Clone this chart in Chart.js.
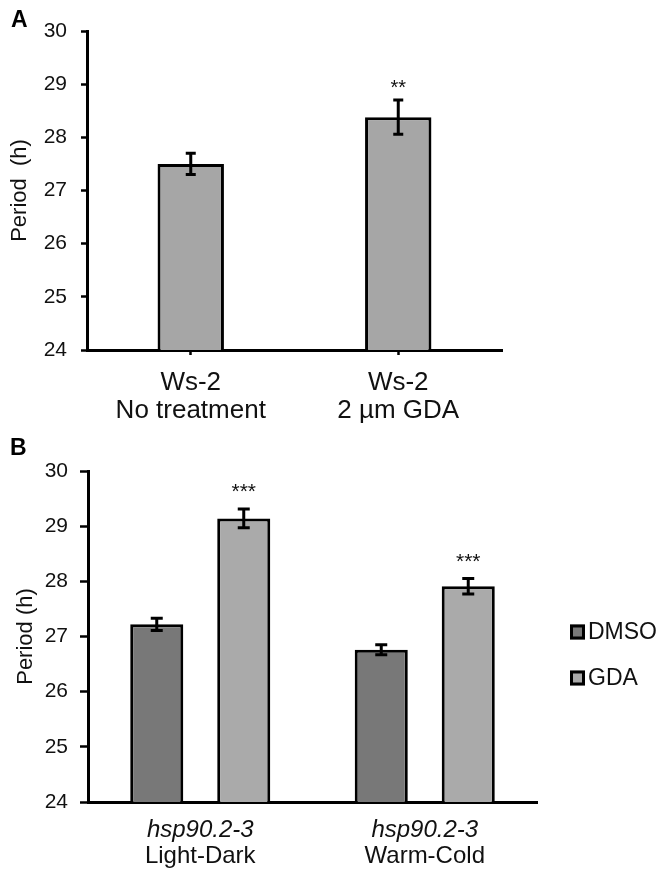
<!DOCTYPE html>
<html>
<head>
<meta charset="utf-8">
<title>Period (h)</title>
<script src="https://cdn.jsdelivr.net/npm/chart.js@4.4.0/dist/chart.umd.min.js"></script>
<style>
  html, body { margin: 0; padding: 0; background: #fff; }
  body { width: 659px; height: 876px; position: relative; overflow: hidden; font-family: "Liberation Sans", Arial, sans-serif; }
  .panel { position: absolute; left: 0; width: 659px; }
  #panelA { top: 0; height: 436px; }
  #panelB { top: 436px; height: 440px; }
  .letter { position: absolute; font-weight: bold; font-size: 23px; line-height: 1; color: #000; z-index: 2; }
</style>
</head>
<body>
<div class="letter" style="left:11px; top:8px">A</div>
<div class="letter" style="left:10px; top:436px">B</div>
<div class="panel" id="panelA"><canvas id="chartA"></canvas></div>
<div class="panel" id="panelB"><canvas id="chartB"></canvas></div>

<script>
// ---- Panel A data ----
const catsA = [['Ws-2', 'No treatment'], ['Ws-2', '2 µm GDA']];
const periodA = [27.5, 28.38];
const errA = [0.2, 0.32];
const starsA = ['', '**'];

// ---- Panel B data ----
const catsB = [['hsp90.2-3', 'Light-Dark'], ['hsp90.2-3', 'Warm-Cold']];
const seriesB = ['DMSO', 'GDA'];
const dmsoB = [27.22, 26.76];
const dmsoErrB = [0.11, 0.09];
const gdaB = [29.14, 27.91];
const gdaErrB = [0.17, 0.14];
const gdaStarsB = ['***', '***'];

// shared y ticks
const yTicks = [24, 25, 26, 27, 28, 29, 30];

Chart.defaults.font.family = "'Liberation Sans', Arial, sans-serif";
Chart.defaults.color = '#111';

// error bars + significance stars
const errorBars = {
    id: 'errorBars',
    afterDatasetsDraw(chart, args, opts) {
        const ctx = chart.ctx;
        const yScale = chart.scales.y;
        chart.data.datasets.forEach((ds, di) => {
            if (!ds.errors) return;
            const meta = chart.getDatasetMeta(di);
            meta.data.forEach((bar, i) => {
                const v = ds.data[i], e = ds.errors[i];
                const top = yScale.getPixelForValue(v + e);
                const bot = yScale.getPixelForValue(v - e);
                ctx.save();
                ctx.strokeStyle = '#000';
                ctx.lineWidth = opts.width;
                ctx.beginPath();
                ctx.moveTo(bar.x, top); ctx.lineTo(bar.x, bot);
                ctx.moveTo(bar.x - opts.cap, top); ctx.lineTo(bar.x + opts.cap, top);
                ctx.moveTo(bar.x - opts.cap, bot); ctx.lineTo(bar.x + opts.cap, bot);
                ctx.stroke();
                if (ds.stars && ds.stars[i]) {
                    ctx.fillStyle = '#111';
                    ctx.font = opts.starFont;
                    ctx.textAlign = 'center';
                    ctx.textBaseline = 'alphabetic';
                    ctx.fillText(ds.stars[i], bar.x, top - opts.starGap);
                }
                ctx.restore();
            });
        });
    }
};

// two-line category labels (first line can be italic)
const groupLabels = {
    id: 'groupLabels',
    afterDraw(chart, args, opts) {
        if (!opts.fonts) return;
        const ctx = chart.ctx;
        const xScale = chart.scales.x;
        chart.data.labels.forEach((lines, i) => {
            const px = xScale.getPixelForValue(i);
            lines.forEach((t, li) => {
                ctx.save();
                ctx.font = opts.fonts[li];
                ctx.fillStyle = '#111';
                ctx.textAlign = 'center';
                ctx.textBaseline = 'middle';
                ctx.fillText(t, px, xScale.top + opts.offsets[li]);
                ctx.restore();
            });
        });
    }
};

// legend with bordered squares
const boxLegend = {
    id: 'boxLegend',
    afterDraw(chart, args, opts) {
        if (!opts.x) return;
        const ctx = chart.ctx;
        chart.data.datasets.forEach((ds, i) => {
            const cy = opts.y + i * opts.gap;
            const s = opts.box;
            ctx.save();
            ctx.fillStyle = ds.backgroundColor;
            ctx.fillRect(opts.x, cy - s / 2, s, s);
            ctx.strokeStyle = '#000';
            ctx.lineWidth = 3;
            ctx.strokeRect(opts.x + 1.5, cy - s / 2 + 1.5, s - 3, s - 3);
            ctx.fillStyle = '#111';
            ctx.font = opts.font;
            ctx.textAlign = 'left';
            ctx.textBaseline = 'middle';
            ctx.fillText(ds.label, opts.x + s + 3, cy + 1);
            ctx.restore();
        });
    }
};

function yScaleOpts(title, width, tickLen, pad, titlePad) {
    return {
        min: 24,
        max: 30,
        afterBuildTicks: s => { s.ticks = yTicks.map(v => ({ value: v })); },
        afterFit: s => { s.width = width; },
        grid: { drawOnChartArea: false, tickLength: tickLen, tickWidth: 2.5, tickColor: '#000' },
        border: { color: '#000', width: 3 },
        ticks: { color: '#111', font: { size: 21 }, padding: pad },
        title: { display: true, text: title, color: '#111', font: { size: 22 }, padding: { top: titlePad, bottom: 0 } }
    };
}

/* -------------------------------------
   Panel A
------------------------------------- */
new Chart(document.getElementById('chartA'), {
    type: 'bar',
    data: {
        labels: catsA,
        datasets: [{
            label: 'Period',
            data: periodA,
            errors: errA,
            stars: starsA,
            backgroundColor: '#a6a6a6',
            borderColor: '#000',
            borderWidth: 3,
            barPercentage: 0.32,
            categoryPercentage: 1
        }]
    },
    options: {
        responsive: true,
        maintainAspectRatio: false,
        animation: false,
        layout: { padding: { left: 0, right: 157, top: 31, bottom: 0 } },
        plugins: {
            legend: { display: false },
            tooltip: { enabled: false },
            errorBars: { width: 3, cap: 5, starGap: 6, starFont: '20px "Liberation Sans", Arial, sans-serif' }
        },
        scales: {
            x: {
                afterFit: s => { s.height = 86; },
                grid: { offset: false, drawOnChartArea: false, tickLength: 5, tickWidth: 2.5, tickColor: '#000' },
                border: { color: '#000', width: 3 },
                ticks: { color: '#111', font: { size: 26, lineHeight: 1.06 }, padding: 14, maxRotation: 0 }
            },
            y: yScaleOpts('Period  (h)', 87, 6, 14, 7)
        }
    },
    plugins: [errorBars]
});

/* -------------------------------------
   Panel B
------------------------------------- */
new Chart(document.getElementById('chartB'), {
    type: 'bar',
    data: {
        labels: catsB,
        datasets: [{
            label: seriesB[0],
            data: dmsoB,
            errors: dmsoErrB,
            backgroundColor: '#787878',
            borderColor: '#000',
            borderWidth: 3,
            barPercentage: 0.61,
            categoryPercentage: 0.775
        }, {
            label: seriesB[1],
            data: gdaB,
            errors: gdaErrB,
            stars: gdaStarsB,
            backgroundColor: '#aaaaaa',
            borderColor: '#000',
            borderWidth: 3,
            barPercentage: 0.61,
            categoryPercentage: 0.775
        }]
    },
    options: {
        responsive: true,
        maintainAspectRatio: false,
        animation: false,
        layout: { padding: { left: 0, right: 122, top: 35, bottom: 0 } },
        plugins: {
            legend: { display: false },
            tooltip: { enabled: false },
            errorBars: { width: 3, cap: 6, starGap: 11, starFont: '21px "Liberation Sans", Arial, sans-serif' },
            groupLabels: {
                fonts: ['italic 24px "Liberation Sans", Arial, sans-serif', '24px "Liberation Sans", Arial, sans-serif'],
                offsets: [28, 54]
            },
            boxLegend: { x: 570, y: 196, gap: 46, box: 15, font: '23px "Liberation Sans", Arial, sans-serif' }
        },
        scales: {
            x: {
                afterFit: s => { s.height = 74; },
                grid: { display: false },
                border: { color: '#000', width: 3 },
                ticks: { display: false }
            },
            y: yScaleOpts('Period (h)', 88, 8, 12, 13)
        }
    },
    plugins: [errorBars, groupLabels, boxLegend]
});
</script>
</body>
</html>
